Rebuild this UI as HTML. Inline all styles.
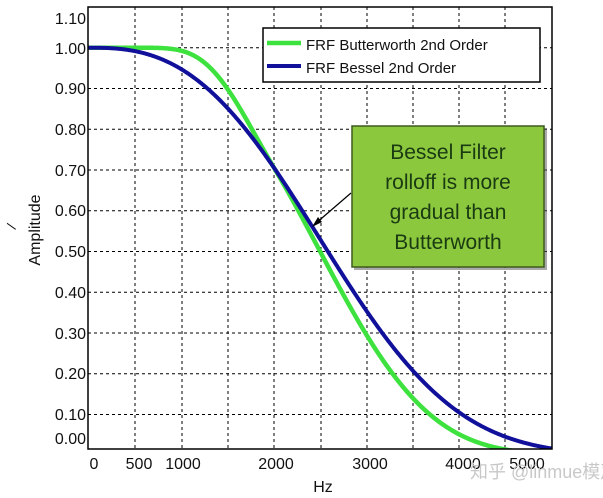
<!DOCTYPE html>
<html><head><meta charset="utf-8"><style>
body{margin:0;background:#fff;}
svg{display:block;font-family:"Liberation Sans",Arial,sans-serif;}
</style></head><body>
<svg width="603" height="498" viewBox="0 0 603 498" xmlns="http://www.w3.org/2000/svg">
<defs><clipPath id="cp"><rect x="88" y="7" width="464" height="442"/></clipPath></defs>
<rect width="603" height="498" fill="#fff"/>
<g stroke="#000" stroke-width="1" stroke-dasharray="3,3">
<line x1="135" y1="7" x2="135" y2="449"/><line x1="182" y1="7" x2="182" y2="449"/>
<line x1="228" y1="7" x2="228" y2="449"/><line x1="274" y1="7" x2="274" y2="449"/>
<line x1="321" y1="7" x2="321" y2="449"/><line x1="367" y1="7" x2="367" y2="449"/>
<line x1="413" y1="7" x2="413" y2="449"/><line x1="459" y1="7" x2="459" y2="449"/>
<line x1="505" y1="7" x2="505" y2="449"/>
<line x1="88" y1="47.7" x2="552" y2="47.7"/><line x1="88" y1="88.5" x2="552" y2="88.5"/>
<line x1="88" y1="129.2" x2="552" y2="129.2"/><line x1="88" y1="170" x2="552" y2="170"/>
<line x1="88" y1="210.7" x2="552" y2="210.7"/><line x1="88" y1="251.5" x2="552" y2="251.5"/>
<line x1="88" y1="292.2" x2="552" y2="292.2"/><line x1="88" y1="333" x2="552" y2="333"/>
<line x1="88" y1="373.7" x2="552" y2="373.7"/><line x1="88" y1="414.5" x2="552" y2="414.5"/>
</g>
<g font-size="16" fill="#111" text-anchor="end">
<text x="86" y="24">1.10</text><text x="86" y="54">1.00</text><text x="86" y="94">0.90</text>
<text x="86" y="135">0.80</text><text x="86" y="176">0.70</text><text x="86" y="216">0.60</text>
<text x="86" y="257">0.50</text><text x="86" y="298">0.40</text><text x="86" y="339">0.30</text>
<text x="86" y="379">0.20</text><text x="86" y="420">0.10</text><text x="86" y="444">0.00</text>
</g>
<g font-size="16" fill="#111" text-anchor="middle">
<text x="94" y="469">0</text><text x="139" y="469">500</text><text x="183" y="469">1000</text>
<text x="276" y="469">2000</text><text x="370" y="469">3000</text><text x="463" y="469">4000</text>
<text x="527" y="469">5000</text><text x="323" y="492">Hz</text>
</g>
<text transform="translate(40,230) rotate(-90)" font-size="16" text-anchor="middle" fill="#111">Amplitude</text>
<text transform="translate(16,228) rotate(-70)" font-size="14" text-anchor="middle" fill="#111">/</text>
<g clip-path="url(#cp)">
<path id="g" fill="none" stroke="#3ee23e" stroke-width="4.5" stroke-linecap="round" stroke-linejoin="round"/>
<path id="b" fill="none" stroke="#10109a" stroke-width="4" stroke-linecap="round" stroke-linejoin="round"/>
</g>
<rect x="88" y="7" width="464" height="442" fill="none" stroke="#000" stroke-width="1.5"/>
<text x="470" y="478" font-size="18" fill="#c8c8c8" font-family="'Liberation Sans','Noto Sans CJK SC',sans-serif">知乎 @linmue模声浑</text>
<rect x="263" y="28" width="277" height="54" fill="#fff" stroke="#000" stroke-width="1.5"/>
<line x1="267" y1="43" x2="301" y2="43" stroke="#3ee23e" stroke-width="4.5"/>
<line x1="267" y1="66" x2="301" y2="66" stroke="#10109a" stroke-width="4"/>
<text x="306" y="50" font-size="15" fill="#111">FRF Butterworth 2nd Order</text>
<text x="306" y="73" font-size="15" fill="#111">FRF Bessel 2nd Order</text>
<line x1="351" y1="193" x2="315" y2="224" stroke="#000" stroke-width="1.2"/>
<polygon points="312,227 318,217 322,222" fill="#000"/>
<rect x="354" y="128" width="193" height="142" fill="#555" opacity="0.5"/>
<rect x="352" y="126" width="192" height="141" fill="#8cc83e" stroke="#3c5a1e" stroke-width="1.5"/>
<g font-size="21" fill="#1a3a12" text-anchor="middle">
<text x="448" y="159">Bessel Filter</text><text x="448" y="189">rolloff is more</text>
<text x="448" y="219">gradual than</text><text x="448" y="249">Butterworth</text>
</g>
</svg>
<script>
function mk(a,p,k,u0){var d="";for(var x=88;x<=553;x+=1){var f=Math.max((x-88)/0.0928,1);var u=Math.log(f/a);var e=p*u;if(u<u0)e+=k*(u-u0)*(u-u0);var v=Math.exp(-Math.exp(e));var y=47.7+(1-v)*407.5;d+=(x==88?"M":" L")+x+","+y.toFixed(2);}return d;}
document.getElementById("g").setAttribute("d",mk(2815,3.1,-3.6,-0.342));
document.getElementById("b").setAttribute("d",mk(2960,2.7,0,-9));
</script>
</body></html>
